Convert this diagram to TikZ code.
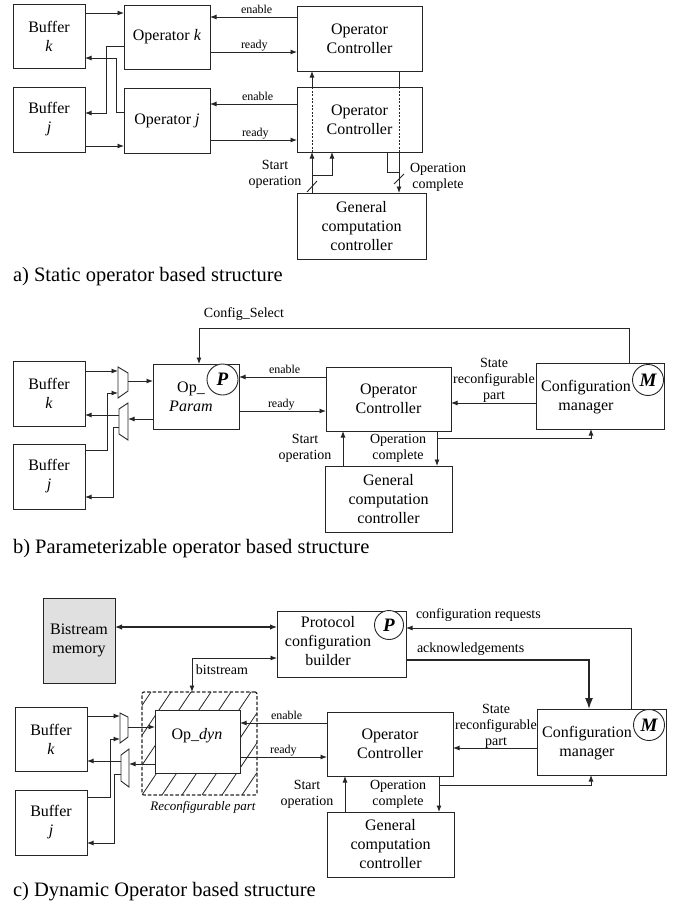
\documentclass[tikz,border=0pt]{standalone}
\usepackage{fontspec}
\setmainfont{Liberation Serif}
\usetikzlibrary{arrows.meta}
\definecolor{lc}{gray}{0.15}
\definecolor{memgray}{gray}{0.88}
\begin{document}
\begin{tikzpicture}[x=1pt,y=-1pt,
  every node/.style={inner sep=0pt, outer sep=0pt},
  box/.style={draw=lc, line width=0.9pt, fill=white, align=center, font=\fontsize{16}{19}\selectfont},
  txt/.style={align=center, font=\fontsize{16}{19}\selectfont},
  lbl/.style={anchor=base west, font=\fontsize{12}{14}\selectfont},
  mlbl/.style={align=center, font=\fontsize{14}{16}\selectfont},
  captxt/.style={anchor=west, font=\fontsize{20.5}{24}\selectfont},
  circ/.style={circle, draw=lc, fill=white, line width=0.9pt, minimum size=31pt, font=\fontsize{19}{19}\selectfont\bfseries\itshape},
  ln/.style={draw=lc, line width=0.9pt},
  arr/.style={ln, -{Latex[length=6.5pt,width=5pt]}},
  dsh/.style={ln, dash pattern=on 2pt off 1.5pt},
  bigarr/.style={draw=lc, line width=1.4pt, -{Latex[length=11pt,width=8pt]}},
  dblarr/.style={draw=lc, line width=1.2pt, {Latex[length=7pt,width=5.5pt]}-{Latex[length=7pt,width=5.5pt]}}
]
\useasboundingbox (0,0) rectangle (678,907);

% ================= a) =================
\node[box, minimum width=72pt, minimum height=64pt] (bka) at (49,36) {Buffer\\\textit{k}};
\node[box, minimum width=72pt, minimum height=65pt] (bja) at (49,119.5) {Buffer\\\textit{j}};
\node[box, minimum width=86pt, minimum height=64pt] (oka) at (167,37) {Operator \textit{k}};
\node[box, minimum width=86pt, minimum height=65pt] (oja) at (167,120.5) {Operator \textit{j}};
\node[box, minimum width=125pt, minimum height=65pt] (oc1) at (359.5,38.5) {Operator\\Controller};
\node[box, minimum width=125pt, minimum height=65pt] (oc2) at (359.5,119.5) {Operator\\Controller};
\node[box, minimum width=129pt, minimum height=66pt] (gca) at (361.5,226) {General\\computation\\controller};

\draw[arr] (bka.east |- 0,13) -- (oka.west |- 0,13);
\draw[arr] (oka.west |- 0,46) -- (106,46) -- (106,113) -- (bja.east |- 0,113);
\draw[arr] (oja.west |- 0,112) -- (116,112) -- (116,58) -- (bka.east |- 0,58);
\draw[arr] (bja.east |- 0,146) -- (oja.west |- 0,146);

\draw[arr] (oc1.west |- 0,17) -- (oka.east |- 0,17);
\node[lbl] (la1) at (241,13.5) {enable};
\draw[arr] (oka.east |- 0,52) -- (oc1.west |- 0,52);
\node[lbl] (la2) at (241,48.5) {ready};
\draw[arr] (oc2.west |- 0,104) -- (oja.east |- 0,104);
\node[lbl] (la3) at (242,100.5) {enable};
\draw[arr] (oja.east |- 0,140) -- (oc2.west |- 0,140);
\node[lbl] (la4) at (242,136.5) {ready};

% start operation
\draw[arr] (gca.north -| 312,0) -- (oc2.south -| 312,0);
\draw[dsh] (oc2.south -| 312,0) -- (oc2.north -| 312,0);
\draw[arr] (oc2.north -| 312,0) -- (oc1.south -| 312,0);
\coordinate (sa) at (312,175);
\draw[arr] (sa) -- (332,175) -- (oc2.south -| 332,0);
\draw[ln] (307,192) -- (317,181);
% operation complete
\draw[ln] (oc1.south -| 399,0) -- (oc2.north -| 399,0);
\draw[dsh] (oc2.north -| 399,0) -- (oc2.south -| 399,0);
\draw[arr] (oc2.south -| 399,0) -- (gca.north -| 399,0);
\coordinate (ca) at (399,172);
\draw[ln] (oc2.south -| 387,0) -- (387,172) -- (ca);
\draw[ln] (394,184) -- (404,174);
\node[mlbl] (lsa) at (275,174) {Start\\operation};
\node[mlbl] (lca) at (438,177) {Operation\\complete};

\node[captxt] (capa) at (13,277) {a) Static operator based structure};

% ================= b) =================
\node[box, minimum width=72pt, minimum height=65pt] (bkb) at (49,393.5) {Buffer\\\textit{k}};
\node[box, minimum width=72pt, minimum height=65pt] (bjb) at (49,476.5) {Buffer\\\textit{j}};
\node[box, minimum width=86pt, minimum height=65pt] (opp) at (196,396.5) {};
\node[txt] (oppt) at (191,397) {Op\_\\\textit{Param}};
\node[circ] (ppb) at (222.5,379.5) {P};
\node[box, minimum width=125pt, minimum height=64pt] (ocb) at (388.5,399) {Operator\\Controller};
\node[box, minimum width=128pt, minimum height=66pt] (cmb) at (600,396) {};
\node[txt] (cmbt) at (586,397) {Configuration\\manager};
\node[circ] (mb) at (648,380) {M};
\node[box, minimum width=127pt, minimum height=66pt] (gcb) at (388.5,499) {General\\computation\\controller};

% muxes
\draw[ln, fill=white] (118,367) -- (128,373) -- (128,391) -- (118,398) -- cycle;
\draw[ln, fill=white] (119,409) -- (128,403) -- (128,440) -- (119,434) -- cycle;
\coordinate (m1a) at (118,371);
\coordinate (m1b) at (118,393);
\coordinate (m1o) at (128,381);
\coordinate (d1i) at (128,419);
\coordinate (d1a) at (119,415);
\coordinate (d1b) at (119,427);
\draw[arr] (bkb.east |- m1a) -- (m1a);
\draw[arr] (bjb.east |- 0,450) -- (107,450) -- (107,393) -- (m1b);
\draw[arr] (m1o) -- (opp.west |- m1o);
\draw[arr] (opp.west |- d1i) -- (d1i);
\draw[arr] (d1a) -- (bkb.east |- d1a);
\draw[arr] (d1b) -- (113,427) -- (113,497) -- (bjb.east |- 0,497);

\draw[arr] (ocb.west |- 0,377) -- (opp.east |- 0,377);
\node[lbl] (lb1) at (269,373.5) {enable};
\draw[arr] (opp.east |- 0,411) -- (ocb.west |- 0,411);
\node[lbl] (lb2) at (268,407.5) {ready};
\draw[arr] (cmb.west |- 0,403) -- (ocb.east |- 0,403);
\node[mlbl] (lb3) at (494,380) {State\\reconfigurable\\part};
\draw[arr] (cmb.north -| 629,0) -- (629,328) -- (199,328) -- (opp.north -| 199,0);
\node[mlbl] (lb4) at (244,314) {Config\_Select};
\draw[arr] (gcb.north -| 343,0) -- (ocb.south -| 343,0);
\draw[arr] (ocb.south -| 437,0) -- (gcb.north -| 437,0);
\coordinate (cb) at (437,438);
\draw[arr] (cb) -- (591,438) -- (cmb.south -| 591,0);
\node[mlbl] (lb5) at (305,448) {Start\\operation};
\node[mlbl] (lb6) at (398,448) {Operation\\complete};

\node[captxt] (capb) at (13,549) {b) Parameterizable operator based structure};

% ================= c) =================
\node[box, fill=memgray, minimum width=72pt, minimum height=85pt] (bm) at (79,640.5) {Bistream\\memory};
\node[box, minimum width=129pt, minimum height=66pt] (pcb) at (341.5,644) {};
\node[txt] (pcbt) at (328,641) {Protocol\\configuration\\builder};
\node[circ, minimum size=29pt] (pc) at (389,625) {P};

% reconfigurable region with hatching
\begin{scope}
\clip (142,692) rectangle (257,795);
\foreach \x in {42,62,...,262} \draw[ln, line width=0.8pt] (\x,795) -- ++(69,-103);
\end{scope}
\node[draw=lc, line width=1.2pt, dash pattern=on 3.5pt off 2pt, rounded corners=2pt, minimum width=115pt, minimum height=103pt] (rp) at (199.5,743.5) {};
\node[box, minimum width=85pt, minimum height=63pt] (opd) at (197.5,741.5) {};
\node[txt] (opdt) at (197,736) {Op\_\textit{dyn}};
\node[anchor=center, font=\fontsize{13}{15}\selectfont\itshape] (rpl) at (203,807) {Reconfigurable part};

\node[box, minimum width=72pt, minimum height=64pt] (bkc) at (51,739) {Buffer\\\textit{k}};
\node[box, minimum width=72pt, minimum height=65pt] (bjc) at (51,822.5) {Buffer\\\textit{j}};
\node[box, minimum width=126pt, minimum height=64pt] (occ) at (390,744) {Operator\\Controller};
\node[box, minimum width=129pt, minimum height=66pt] (cmc) at (601.5,742) {};
\node[txt] (cmct) at (587,743) {Configuration\\manager};
\node[circ] (mc) at (649,725) {M};
\node[box, minimum width=127pt, minimum height=65pt] (gcc) at (390.5,844.5) {General\\computation\\controller};

% muxes
\draw[ln, fill=white] (120,713) -- (128,717) -- (128,737) -- (120,743) -- cycle;
\draw[ln, fill=white] (121,755) -- (129,749) -- (129,787) -- (121,781) -- cycle;
\coordinate (m2a) at (120,716);
\coordinate (m2b) at (120,739);
\coordinate (m2o) at (128,727);
\coordinate (d2i) at (129,764);
\coordinate (d2a) at (121,761);
\coordinate (d2b) at (121,774);
\draw[arr] (bkc.east |- m2a) -- (m2a);
\draw[arr] (bjc.east |- 0,797) -- (110,797) -- (110,739) -- (m2b);
\draw[arr] (m2o) -- (opd.west |- m2o);
\draw[arr] (opd.west |- d2i) -- (d2i);
\draw[arr] (d2a) -- (bkc.east |- d2a);
\draw[arr] (d2b) -- (114,774) -- (114,843) -- (bjc.east |- 0,843);

\draw[dblarr] (bm.east |- 0,627) -- (pcb.west |- 0,627);
\draw[{Latex[length=6.5pt,width=5pt]}-{Latex[length=6.5pt,width=5pt]}, ln] (pcb.west |- 0,658) -- (192,658) -- (rp.north -| 192,0);
\node[mlbl] (lc0) at (222,670) {bitstream};

\draw[arr] (occ.west |- 0,723) -- (opd.east |- 0,723);
\node[lbl] (lc1) at (271,719.5) {enable};
\draw[arr] (opd.east |- 0,757) -- (occ.west |- 0,757);
\node[lbl] (lc2) at (270,753.5) {ready};
\draw[arr] (cmc.west |- 0,748) -- (occ.east |- 0,748);
\node[mlbl] (lc3) at (496,726) {State\\reconfigurable\\part};

\draw[arr] (cmc.north -| 631,0) -- (631,628) -- (pcb.east |- 0,628);
\node[mlbl, anchor=west] (lc4) at (416,615) {configuration requests};
\draw[bigarr] (pcb.east |- 0,660) -- (589,660) -- (cmc.north -| 589,0);
\node[mlbl, anchor=west] (lc5) at (417,649) {acknowledgements};

\draw[arr] (gcc.north -| 345,0) -- (occ.south -| 345,0);
\draw[arr] (occ.south -| 439,0) -- (gcc.north -| 439,0);
\coordinate (cc) at (439,785);
\draw[arr] (cc) -- (591,785) -- (cmc.south -| 591,0);
\node[mlbl] (lc6) at (307,794) {Start\\operation};
\node[mlbl] (lc7) at (398,794) {Operation\\complete};

\node[captxt] (capc) at (13,892) {c) Dynamic Operator based structure};
\end{tikzpicture}
\end{document}
